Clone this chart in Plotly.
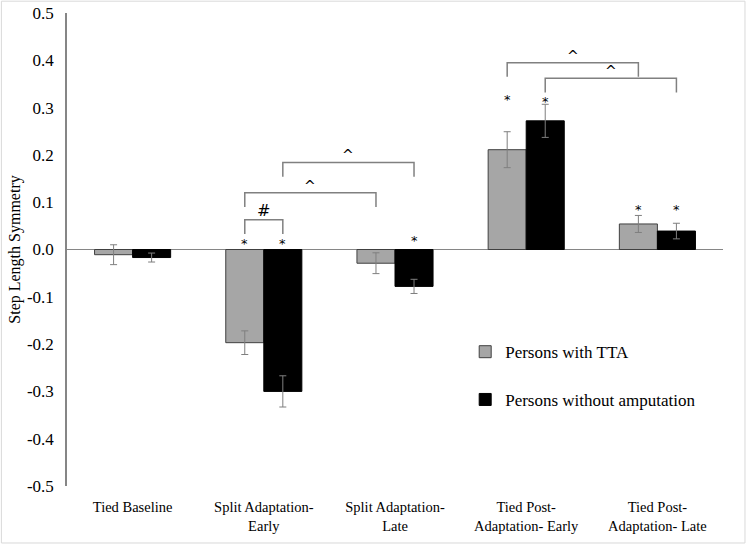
import plotly.graph_objects as go

# ---- data ----
categories = ["Tied Baseline", "Split Adaptation-<br>Early", "Split Adaptation-<br>Late",
              "Tied Post-<br>Adaptation- Early", "Tied Post-<br>Adaptation- Late"]
tta_values = [-0.011, -0.197, -0.029, 0.211, 0.054]
tta_errors = [0.021, 0.025, 0.022, 0.038, 0.018]
noamp_values = [-0.017, -0.300, -0.078, 0.272, 0.039]
noamp_errors = [0.0095, 0.033, 0.015, 0.035, 0.0165]
series_names = ["Persons with TTA", "Persons without amputation"]
y_ticks = [0.5, 0.4, 0.3, 0.2, 0.1, 0.0, -0.1, -0.2, -0.3, -0.4, -0.5]
y_tick_labels = ["0.5", "0.4", "0.3", "0.2", "0.1", "0.0", "-0.1", "-0.2", "-0.3", "-0.4", "-0.5"]

# significance asterisks: (category index, series index, y level)
asterisks = [(1, 0, 0.012), (1, 1, 0.012), (2, 1, 0.018),
             (3, 0, 0.318), (3, 1, 0.313), (4, 0, 0.085), (4, 1, 0.085)]
# brackets: (cat_a, series_a, cat_b, series_b, top y, label)
brackets = [(1, 0, 1, 1, 0.063, "#"),
            (1, 0, 2, 0, 0.120, "^"),
            (1, 1, 2, 1, 0.184, "^"),
            (3, 0, 4, 0, 0.395, "^"),
            (3, 1, 4, 1, 0.362, "^")]

FONT = "Liberation Serif"
BARGAP = 0.42
half = (1 - BARGAP) / 4.0  # offset of each bar center from category center
x_pos = list(range(len(categories)))


def bar_x(cat, ser):
    return cat - half if ser == 0 else cat + half


fig = go.Figure()
fig.add_trace(go.Bar(
    x=x_pos, y=tta_values, name=series_names[0], legend="legend", showlegend=True,
    marker=dict(color="#A6A6A6", line=dict(color="#404040", width=1)),
    error_y=dict(type="data", array=tta_errors, color="#7F7F7F", thickness=1, width=3.5),
))
fig.add_trace(go.Bar(
    x=x_pos, y=noamp_values, name=series_names[1], legend="legend2", showlegend=True,
    marker=dict(color="#000000", line=dict(color="#000000", width=1)),
    error_y=dict(type="data", array=noamp_errors, color="#7F7F7F", thickness=1, width=3.5),
))

annotations = []
shapes = []
for cat, ser, yv in asterisks:
    annotations.append(dict(x=bar_x(cat, ser), y=yv, xref="x", yref="y", text="*",
                            showarrow=False, font=dict(family="DejaVu Sans", size=13, color="#000"),
                            yanchor="middle", yshift=0))
LEG = 0.03
for ca, sa, cb, sb, top, lab in brackets:
    xa, xb = bar_x(ca, sa), bar_x(cb, sb)
    shapes.append(dict(type="path", xref="x", yref="y",
                       path=f"M {xa},{top-LEG} L {xa},{top} L {xb},{top} L {xb},{top-LEG}",
                       line=dict(color="#808080", width=1.5)))
    annotations.append(dict(x=(xa + xb) / 2, y=top, xref="x", yref="y", text=lab,
                            showarrow=False, yanchor="bottom", yshift=-3 if lab == "^" else -2,
                            font=dict(family="DejaVu Sans", size=16 if lab == "#" else 14,
                                      color="#000")))

# light frame around the whole image
shapes.append(dict(type="rect", xref="paper", yref="paper", x0=-0.1, x1=1.0335,
                   y0=-0.1205, y1=1.025, line=dict(color="#D9D9D9", width=1), layer="below"))

fig.update_layout(
    template="none",
    width=750, height=545,
    margin=dict(l=67, r=27, t=13, b=59, pad=0),
    paper_bgcolor="white", plot_bgcolor="white",
    barmode="group", bargap=BARGAP, bargroupgap=0,
    showlegend=True,
    font=dict(family=FONT, size=15, color="#000"),
    legend=dict(x=0.607, y=0.283, xanchor="left", yanchor="middle",
                font=dict(family=FONT, size=17), bgcolor="rgba(0,0,0,0)"),
    legend2=dict(x=0.607, y=0.182, xanchor="left", yanchor="middle",
                 font=dict(family=FONT, size=17), bgcolor="rgba(0,0,0,0)"),
    annotations=annotations, shapes=shapes,
)
fig.update_xaxes(range=[-0.5, 4.5], tickvals=x_pos, ticktext=categories,
                 showline=False, showgrid=False, zeroline=False,
                 ticks="outside", ticklen=8, tickcolor="rgba(0,0,0,0)",
                 automargin=False,
                 tickfont=dict(family=FONT, size=14.5, color="#000"))
fig.update_yaxes(range=[-0.5, 0.5], tickvals=y_ticks, ticktext=y_tick_labels,
                 showline=True, linecolor="#868686", linewidth=1.5,
                 showgrid=False, zeroline=True, zerolinecolor="#868686", zerolinewidth=1,
                 ticks="outside", ticklen=8, tickcolor="rgba(0,0,0,0)", automargin=False,
                 tickfont=dict(family=FONT, size=17, color="#000"),
                 title=dict(text="Step Length Symmetry", font=dict(family=FONT, size=16),
                            standoff=2))
fig.write_html("out.html", post_script="document.body.style.margin='0';",
               config={"displayModeBar": False})
